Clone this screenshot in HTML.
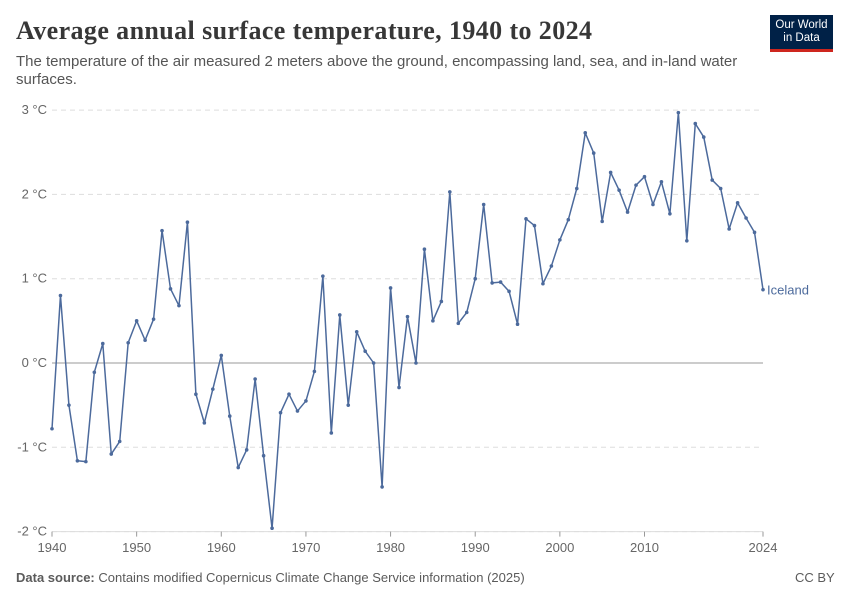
<!DOCTYPE html>
<html><head><meta charset="utf-8"><style>
body{margin:0;width:850px;height:600px;background:#fff;overflow:hidden;font-family:"Liberation Sans",sans-serif;position:relative}
.t{position:absolute;margin:0}
</style></head><body>
<h1 class="t" style="left:16px;top:16px;font-family:'Liberation Serif',serif;font-size:26px;font-weight:bold;color:#373737;letter-spacing:0.4px">Average annual surface temperature, 1940 to 2024</h1>
<p class="t" style="left:16px;top:53px;width:750px;font-size:15px;line-height:18px;color:#555">The temperature of the air measured 2 meters above the ground, encompassing land, sea, and in-land water surfaces.</p>
<div class="t" style="left:770px;top:15px;width:63px;height:37px;background:#002147;border-bottom:3px solid #ce261e;box-sizing:border-box;color:#fff;font-size:11.5px;line-height:13px;text-align:center;padding-top:4px">Our World<br>in Data</div>
<svg id="c" width="850" height="600" style="position:absolute;left:0;top:0"></svg>
<p class="t" style="left:16px;top:570px;font-size:13px;color:#5b5b5b"><b>Data source:</b> Contains modified Copernicus Climate Change Service information (2025)</p>
<p class="t" style="left:795px;top:570px;font-size:13px;color:#5b5b5b">CC BY</p>
<script>
const years=[];for(let y=1940;y<=2024;y++)years.push(y);
const temps=[-0.78,0.80,-0.50,-1.16,-1.17,-0.11,0.23,-1.08,-0.93,0.24,0.50,0.27,0.52,1.57,0.88,0.68,1.67,-0.37,-0.71,-0.31,0.09,-0.63,-1.24,-1.03,-0.19,-1.10,-1.96,-0.59,-0.37,-0.57,-0.45,-0.10,1.03,-0.83,0.57,-0.50,0.37,0.14,0.00,-1.47,0.89,-0.29,0.55,0.00,1.35,0.50,0.73,2.03,0.47,0.60,1.00,1.88,0.95,0.96,0.85,0.46,1.71,1.63,0.94,1.15,1.46,1.70,2.07,2.73,2.49,1.68,2.26,2.05,1.79,2.11,2.21,1.88,2.15,1.77,2.97,1.45,2.84,2.68,2.17,2.07,1.59,1.90,1.72,1.55,0.87];
const yTicks=[-2,-1,0,1,2,3];
const xTicks=[1940,1950,1960,1970,1980,1990,2000,2010,2024];
const ns="http://www.w3.org/2000/svg",svg=document.getElementById('c');
const X=y=>52+(y-1940)*(763-52)/84, Y=v=>363-v*84.3;
function mk(t,a,p){const e=document.createElementNS(ns,t);for(const k in a)e.setAttribute(k,a[k]);(p||svg).appendChild(e);return e;}
yTicks.forEach(v=>{
 const l=mk('line',{x1:52,x2:763,y1:Y(v),y2:Y(v),stroke:v===0?'#999':'#ddd','stroke-dasharray':v===0?'':'5,4'});
 
 
 const t=mk('text',{x:47,y:Y(v)+4,'text-anchor':'end','font-size':13,fill:'#666','font-family':'Liberation Sans'});
 t.textContent=(v<0?'-'+Math.abs(v):v)+' °C';
 
 
});
mk('line',{x1:52,x2:763,y1:Y(-2),y2:Y(-2),stroke:'#ddd'});
xTicks.forEach(y=>{
 const l=mk('line',{x1:X(y),x2:X(y),y1:Y(-2),y2:Y(-2)+5,stroke:'#999'});
 
 
 const t=mk('text',{x:X(y),y:552,'text-anchor':'middle','font-size':13,fill:'#666','font-family':'Liberation Sans'});
 t.textContent=y;
 
 
});
const pl=mk('polyline',{points:years.map((y,i)=>X(y)+','+Y(temps[i])).join(' '),fill:'none',stroke:'#4c6a9c','stroke-width':1.5,'stroke-linejoin':'round'});


years.forEach((y,i)=>{
 const c=mk('circle',{cx:X(y),cy:Y(temps[i]),r:1.8,fill:'#4c6a9c'});
 
 
});
const lab=mk('text',{x:X(2024)+4,y:Y(temps[temps.length-1])+5,'font-size':13,fill:'#4c6a9c','font-family':'Liberation Sans'});
lab.textContent='Iceland';


</script>
</body></html>
